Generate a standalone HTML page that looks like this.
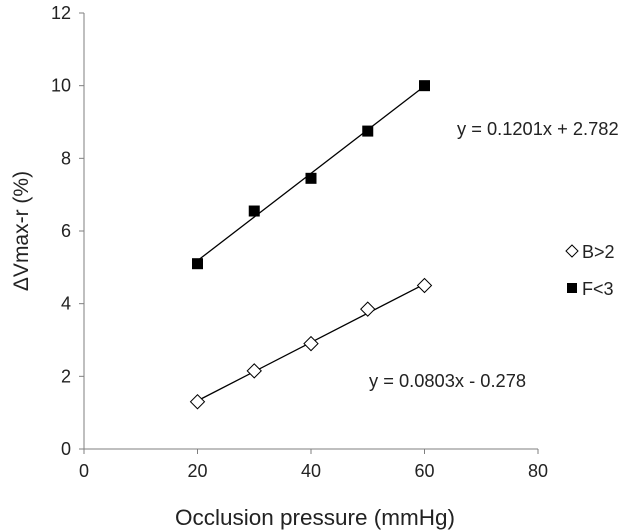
<!DOCTYPE html>
<html><head><meta charset="utf-8">
<style>
body{margin:0;background:#fff;}
svg{display:block;font-family:"Liberation Sans",Arial,sans-serif;}
</style></head>
<body>
<svg id="chart" width="638" height="532" viewBox="0 0 638 532" xmlns="http://www.w3.org/2000/svg"></svg>
<script>
const xTicks=[0,20,40,60,80];
const yTicks=[0,2,4,6,8,10,12];
const pressures=[20,30,40,50,60];
const seriesB=[1.3,2.15,2.9,3.85,4.5];
const seriesF=[5.1,6.55,7.45,8.75,10.0];
const slopeB=0.0803, interceptB=-0.278;
const slopeF=0.1201, interceptF=2.782;
const svg=document.getElementById('chart');
const NS='http://www.w3.org/2000/svg';
const X0=84,X1=538,Y0=449,Y1=13;
const xs=v=>X0+(v-0)/80*(X1-X0);
const ys=v=>Y0-(v-0)/12*(Y0-Y1);
function mk(tag,attrs,parent){const e=document.createElementNS(NS,tag);for(const k in attrs)e.setAttribute(k,attrs[k]);(parent||svg).appendChild(e);return e;}
let a=mk('line',{x1:X0,y1:Y1,x2:X0,y2:Y0,stroke:'#7f7f7f','stroke-width':1});


a=mk('line',{x1:X0,y1:Y0,x2:X1,y2:Y0,stroke:'#7f7f7f','stroke-width':1});


yTicks.forEach(t=>{
  const y=ys(t);
  mk('line',{x1:X0-5,y1:y,x2:X0,y2:y,stroke:'#7f7f7f'});
  const tx=mk('text',{x:X0-13,y:y+6,'text-anchor':'end','font-size':18,fill:'#222'});
  tx.textContent=t;
  
  
});
xTicks.forEach(t=>{
  const x=xs(t);
  mk('line',{x1:x,y1:Y0,x2:x,y2:Y0+5,stroke:'#7f7f7f'});
  const tx=mk('text',{x:x,y:Y0+28,'text-anchor':'middle','font-size':18,fill:'#222'});
  tx.textContent=t;
  
  
});
let t=mk('text',{x:315,y:525,'text-anchor':'middle','font-size':22.5,fill:'#222'});
t.textContent='Occlusion pressure (mmHg)';


t=mk('text',{x:0,y:0,'text-anchor':'middle','font-size':21,fill:'#222',transform:'translate(28,231) rotate(-90)'});
t.textContent='ΔVmax-r (%)';


function trend(m,b,name){
  const xa=pressures[0],xb=pressures[pressures.length-1];
  const l=mk('line',{x1:xs(xa),y1:ys(m*xa+b),x2:xs(xb),y2:ys(m*xb+b),stroke:'#000','stroke-width':1.3});
  
  
}
trend(slopeF,interceptF,'trendline-f');
trend(slopeB,interceptB,'trendline-b');
pressures.forEach((p,i)=>{
  const x=xs(p),y=ys(seriesF[i]);
  const r=mk('rect',{x:x-5.5,y:y-5.5,width:11,height:11,fill:'#000'});
  
  
  const y2=ys(seriesB[i]);
  const d=mk('polygon',{points:`${x},${y2-7} ${x+7},${y2} ${x},${y2+7} ${x-7},${y2}`,fill:'#fff',stroke:'#000','stroke-width':1});
  
  
});
t=mk('text',{x:457,y:135,'font-size':18.3,fill:'#222'});
t.textContent='y = 0.1201x + 2.782';


t=mk('text',{x:369,y:387,'font-size':18.3,fill:'#222'});
t.textContent='y = 0.0803x - 0.278';


const g=mk('g',{});


let d=mk('polygon',{points:'572,245 578,251 572,257 566,251',fill:'#fff',stroke:'#000'},g);


t=mk('text',{x:582,y:258,'font-size':18,fill:'#222'},g);
t.textContent='B>2';


d=mk('rect',{x:567,y:283,width:10,height:10,fill:'#000'},g);


t=mk('text',{x:582,y:295,'font-size':18,fill:'#222'},g);
t.textContent='F<3';


</script>
</body></html>
